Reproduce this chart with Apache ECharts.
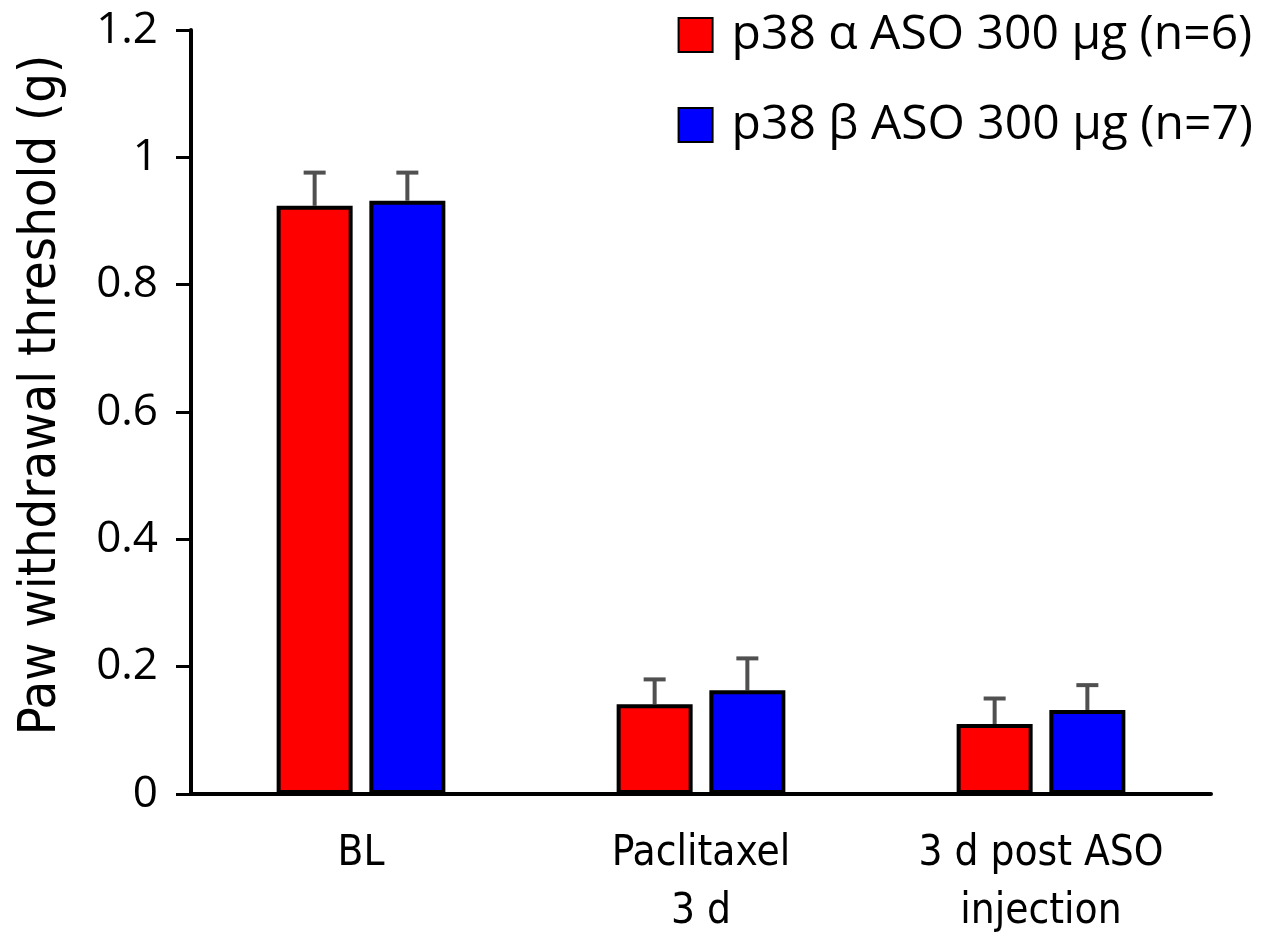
<!DOCTYPE html>
<html lang="en">
<head>
    <meta charset="UTF-8">
    <title>Paw withdrawal threshold</title>
    <style>
        html, body { margin: 0; padding: 0; background: #fff; }
    </style>
</head>
<body>
<div id="main" style="width:1280px;height:947px;"></div>
<script src="https://cdn.jsdelivr.net/npm/echarts@6/dist/echarts.min.js"></script>
<script>
    // data
    var categories = ['BL', 'Paclitaxel\n3 d', '3 d post ASO\ninjection'];
    var seriesNames = ['p38 α ASO 300 μg (n=6)', 'p38 β ASO 300 μg (n=7)'];
    var alphaMean = [0.924, 0.141, 0.110];
    var alphaErr = [0.052, 0.039, 0.040];
    var betaMean = [0.932, 0.163, 0.132];
    var betaErr = [0.044, 0.050, 0.039];

    var colors = ['#ff0000', '#0000ff'];
    var barW = 76, barGapPct = 22;
    var half = (barW + barW * barGapPct / 100) / 2;
    var narrow = 'DejaVu Sans Condensed, Open Sans';

    var myChart = echarts.init(document.getElementById('main'));

    // error bar: vertical line from mean up to mean+err, with a cap
    function errBar(offset, means, errs) {
        return {
            type: 'custom',
            silent: true,
            z: 1,
            data: means.map(function (m, i) { return [i, m, m + errs[i]]; }),
            renderItem: function (params, api) {
                var base = api.coord([api.value(0), api.value(1)]);
                var top = api.coord([api.value(0), api.value(2)]);
                var x = base[0] + offset;
                var style = { stroke: '#505050', lineWidth: 4 };
                return {
                    type: 'group',
                    children: [
                        { type: 'line', shape: { x1: x, y1: base[1], x2: x, y2: top[1] }, style: style },
                        { type: 'line', shape: { x1: x - 11, y1: top[1], x2: x + 11, y2: top[1] }, style: style }
                    ]
                };
            }
        };
    }

    var option = {
        backgroundColor: '#fff',
        animation: false,
        grid: {
            left: 191,
            right: 69,
            top: 30,
            bottom: 153
        },
        legend: {
            orient: 'vertical',
            right: 22,
            top: 6,
            icon: 'rect',
            itemWidth: 34,
            itemHeight: 34,
            itemGap: 42,
            data: seriesNames,
            textStyle: {
                fontFamily: 'Open Sans',
                fontSize: 48,
                color: '#000',
                padding: [0, 0, 0, 14]
            }
        },
        xAxis: {
            type: 'category',
            data: categories,
            axisLine: { lineStyle: { color: '#000', width: 4 } },
            axisTick: { show: false },
            axisLabel: {
                margin: 31,
                color: '#000',
                fontFamily: narrow,
                fontSize: 42,
                lineHeight: 58
            }
        },
        yAxis: {
            type: 'value',
            min: 0,
            max: 1.2,
            interval: 0.2,
            name: 'Paw withdrawal threshold (g)',
            nameLocation: 'middle',
            nameGap: 124,
            nameTextStyle: {
                fontFamily: narrow,
                fontSize: 52,
                color: '#000',
                padding: [0, 0, 0, 34]
            },
            axisLine: { show: true, lineStyle: { color: '#000', width: 4 } },
            axisTick: { show: true, inside: false, length: 15, lineStyle: { color: '#000', width: 3 } },
            splitLine: { show: false },
            axisLabel: {
                margin: 33,
                color: '#000',
                fontFamily: 'Open Sans',
                fontSize: 44,
                formatter: function (v) { return String(Math.round(v * 10) / 10); }
            }
        },
        series: [
            {
                name: seriesNames[0],
                type: 'bar',
                barWidth: barW,
                barGap: barGapPct + '%',
                z: 2,
                itemStyle: { color: colors[0], borderColor: '#000', borderWidth: 4 },
                data: alphaMean
            },
            {
                name: seriesNames[1],
                type: 'bar',
                barWidth: barW,
                barGap: barGapPct + '%',
                z: 2,
                itemStyle: { color: colors[1], borderColor: '#000', borderWidth: 4 },
                data: betaMean
            },
            errBar(-half, alphaMean, alphaErr),
            errBar(half, betaMean, betaErr)
        ]
    };
    myChart.setOption(option);
</script>
</body>
</html>
